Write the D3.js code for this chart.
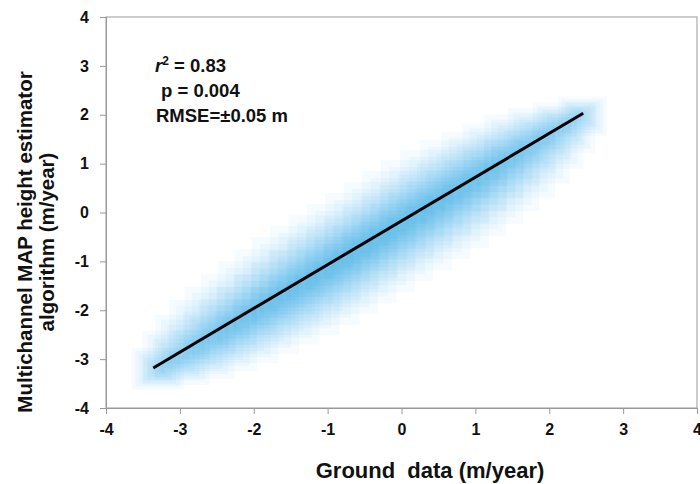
<!DOCTYPE html>
<html>
<head>
<meta charset="utf-8">
<script src="https://cdn.jsdelivr.net/npm/d3@7"></script>
<style>
  body { margin: 0; background: #fff; }
  svg { display: block; font-family: "Liberation Sans", Arial, sans-serif; }
  .tick text { font-size: 16px; font-weight: bold; fill: #111; }
  .tick line, .domain { stroke: #999; }
</style>
</head>
<body>
<svg id="chart" width="700" height="484"></svg>
<script>
// axis ticks
var xTicks = [-4, -3, -2, -1, 0, 1, 2, 3, 4];
var yTicks = [-4, -3, -2, -1, 0, 1, 2, 3, 4];

// regression line end points (ground, estimator)
var fitX = [-3.36, 2.46];
var fitY = [-3.18, 2.03];

// blue density cloud read along the band: centre and relative spread
var cloudX = [-3.3, -3.05, -2.8, -2.55, -2.3, -2.05, -1.8, -1.55, -1.3, -1.05, -0.8, -0.55, -0.3, -0.05, 0.2, 0.45, 0.7, 0.95, 1.2, 1.45, 1.7, 1.95, 2.2, 2.45];
var cloudY = [-3.2, -2.97, -2.75, -2.52, -2.3, -2.08, -1.85, -1.63, -1.4, -1.18, -0.96, -0.73, -0.5, -0.28, -0.05, 0.17, 0.4, 0.62, 0.84, 1.07, 1.3, 1.52, 1.74, 1.97];
var cloudSpread = [0.45, 0.6, 0.72, 0.8, 0.86, 0.9, 0.94, 0.97, 1, 1, 1, 1, 1, 1, 1, 1, 0.98, 0.95, 0.9, 0.85, 0.78, 0.68, 0.55, 0.42];

var statLines = [
  { pre: 'r', sup: '2', rest: ' = 0.83' },
  { pre: '', sup: '', rest: 'p = 0.004' },
  { pre: '', sup: '', rest: 'RMSE=±0.05 m' }
];

(function() {
    var svg = d3.select('#chart');
    var mLeft = 106, mRight = 697, mTop = 17, mBottom = 408;

    var x = d3.scaleLinear().domain([-4, 4]).range([mLeft, mRight]);
    var y = d3.scaleLinear().domain([-4, 4]).range([mBottom, mTop]);

    // cloud: stacked translucent rectangles give the blocky glow
    var cloud = svg.append('g').attr('class', 'cloud');
    var layers = 6;
    cloudX.forEach(function(cx, i) {
        var s = cloudSpread[i];
        for (var k = 1; k <= layers; k++) {
            var hw = k * 8.5 * s + 3, hh = k * 7 * s + 2;
            cloud.append('rect')
                .attr('x', x(cx) - hw)
                .attr('y', y(cloudY[i]) - hh)
                .attr('width', hw * 2)
                .attr('height', hh * 2)
                .attr('fill', '#10a8f0')
                .attr('fill-opacity', 0.043);
        }
    });

    // frame
    svg.append('rect')
        .attr('x', mLeft).attr('y', mTop)
        .attr('width', mRight - mLeft).attr('height', mBottom - mTop)
        .attr('fill', 'none').attr('stroke', '#999');

    var fmt = function(d) { return String(d); };
    svg.append('g')
        .attr('transform', 'translate(0,' + mBottom + ')')
        .call(d3.axisBottom(x).tickValues(xTicks).tickFormat(fmt).tickSize(6).tickPadding(10));
    svg.append('g')
        .attr('transform', 'translate(' + mLeft + ',0)')
        .call(d3.axisLeft(y).tickValues(yTicks).tickFormat(fmt).tickSize(6).tickPadding(11));

    // regression line
    svg.append('line')
        .attr('x1', x(fitX[0])).attr('y1', y(fitY[0]))
        .attr('x2', x(fitX[1])).attr('y2', y(fitY[1]))
        .attr('stroke', '#000').attr('stroke-width', 3);

    // stats text
    var statY = [72, 97, 122];
    var statX = [155, 161, 156];
    statLines.forEach(function(d, i) {
        var t = svg.append('text')
            .attr('x', statX[i]).attr('y', statY[i])
            .attr('font-size', 18.5).attr('font-weight', 'bold').attr('fill', '#111')
            .style('white-space', 'pre');
        if (d.pre) t.append('tspan').attr('font-style', 'italic').text(d.pre);
        if (d.sup) t.append('tspan').attr('font-size', 12).attr('dy', -7).text(d.sup);
        t.append('tspan').attr('dy', d.sup ? 7 : 0).text(d.rest);
    });

    // axis titles
    svg.append('text')
        .attr('x', 430).attr('y', 478)
        .attr('text-anchor', 'middle')
        .attr('font-size', 22).attr('font-weight', 'bold').attr('fill', '#111')
        .style('white-space', 'pre')
        .text('Ground  data (m/year)');

    var yTitle = svg.append('text')
        .attr('transform', 'translate(0,242) rotate(-90)')
        .attr('text-anchor', 'middle')
        .attr('font-size', 20.5).attr('font-weight', 'bold').attr('fill', '#111');
    yTitle.append('tspan').attr('x', 0).attr('y', 32).text('Multichannel MAP height estimator');
    yTitle.append('tspan').attr('x', 0).attr('y', 54).text('algorithm (m/year)');
})();
</script>
</body>
</html>
